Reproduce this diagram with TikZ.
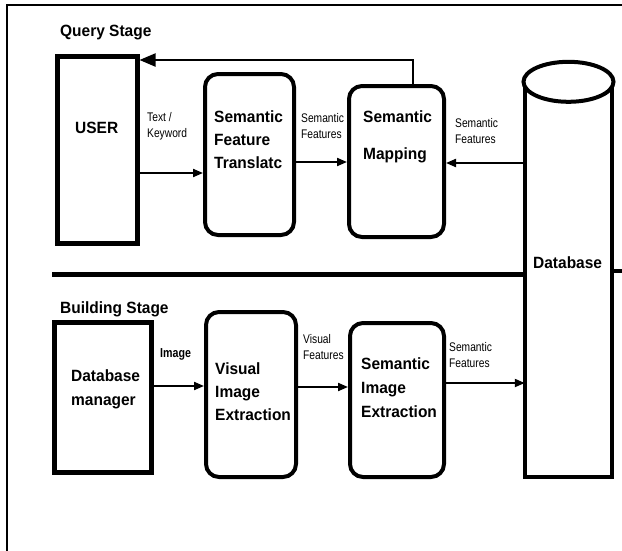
\documentclass[tikz,border=0pt]{standalone}
\usepackage{fontspec}
\setmainfont{Liberation Sans}
\newfontfamily\bignarrow[FakeStretch=0.95]{Liberation Sans}
\newfontfamily\smallnarrow[FakeStretch=0.82]{Liberation Sans}
\usetikzlibrary{arrows.meta,calc}
\begin{document}
\begin{tikzpicture}[x=1pt,y=-1pt,
  sqbox/.style={draw,line width=5pt,inner sep=0pt},
  rbox/.style={draw,line width=4pt,rounded corners=13pt,inner sep=0pt},
  big/.style={font=\bignarrow\fontsize{16.3}{23}\selectfont\bfseries,anchor=north west,inner sep=0pt,align=left},
  small/.style={font=\smallnarrow\fontsize{12.5}{16}\selectfont,anchor=north west,inner sep=0pt,align=left},
  arr/.style={line width=2pt,-{Triangle[length=10pt,width=8pt]}},
  sep/.style={line width=5pt},
]
\useasboundingbox (0,0) rectangle (622,550);
% frame
\draw[line width=2.5pt] (7,552) -- (7,5) -- (624,5);

% boxes
\node[sqbox,minimum width=80pt,minimum height=187pt] (user) at (97,149.5) {};
\node[rbox,minimum width=89pt,minimum height=161pt] (sft) at (249.5,154.5) {};
\node[rbox,minimum width=95pt,minimum height=151pt] (sm) at (396.5,161.5) {};
\node[sqbox,minimum width=97pt,minimum height=150pt] (dbm) at (102.5,397) {};
\node[rbox,minimum width=90pt,minimum height=165pt] (vie) at (251,394.5) {};
\node[rbox,minimum width=94pt,minimum height=154pt] (sie) at (397,400) {};
\node[minimum width=87pt,minimum height=395pt,inner sep=0pt] (db) at (568.5,279.5) {};

% separator
\draw[sep] (52,274) -- (db.west |- 0,274);
\draw[line width=4pt] (db.east |- 0,271) -- (624,271);

% database cylinder
\draw[line width=4pt] (db.north west) -- (db.south west) -- (db.south east) -- (db.north east);
\draw[line width=4pt,fill=white] (db.north) ellipse [x radius=45, y radius=20];

% texts
\node[big] (tq) at (60,25) {Query Stage};
\node[big] (tb) at (60,301) {Building Stage};
\node[big] (tuser) at (75,122) {USER};
\node[big] (tsft) at (214,110) {Semantic\\Feature\\Translatc};
\node[big,font=\bignarrow\fontsize{16.3}{37}\selectfont\bfseries] (tsm) at (363,110) {Semantic\\Mapping};
\node[big] (tdb) at (533,256) {Database};
\node[big,font=\bignarrow\fontsize{16.3}{24}\selectfont\bfseries] (tdbm) at (71,369) {Database\\manager};
\node[big] (tvie) at (215,362) {Visual\\Image\\Extraction};
\node[big,font=\bignarrow\fontsize{16.3}{24}\selectfont\bfseries] (tsie) at (361,357) {Semantic\\Image\\Extraction};

\node[small] (l1) at (147,112) {Text /\\Keyword};
\node[small] (l2) at (301,113) {Semantic\\Features};
\node[small] (l3) at (455,118) {Semantic\\Features};
\node[small,font=\smallnarrow\fontsize{13}{16}\selectfont\bfseries] (l4) at (160,348) {Image};
\node[small] (l5) at (303,334) {Visual\\Features};
\node[small] (l6) at (449,342) {Semantic\\Features};

% arrows
\draw[arr] (user.east |- 0,173) -- (sft.west |- 0,173);
\draw[arr] (sft.east |- 0,162) -- (sm.west |- 0,162);
\draw[arr] (db.west |- 0,163) -- (sm.east |- 0,163);
\draw[line width=2pt,-{Triangle[length=16pt,width=13pt]}] ([xshift=16.5pt]sm.north) |- (user.east |- 0,60);
\draw[arr] (dbm.east |- 0,386) -- (vie.west |- 0,386);
\draw[arr] (vie.east |- 0,387) -- (sie.west |- 0,387);
\draw[arr] (sie.east |- 0,383) -- (db.west |- 0,383);
\end{tikzpicture}
\end{document}
